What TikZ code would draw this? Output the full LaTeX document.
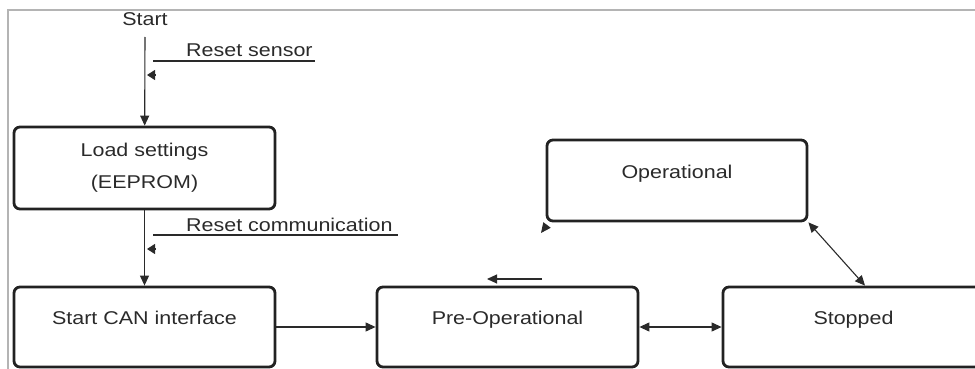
\documentclass[tikz,border=0pt]{standalone}
\usepackage{fontspec}
\setmainfont{Liberation Sans}[FakeStretch=1.16]
\usetikzlibrary{arrows.meta}
\definecolor{boxcol}{HTML}{222222}
\definecolor{txtcol}{HTML}{2A2A2A}
\definecolor{framecol}{HTML}{B4B4B4}
\begin{document}
\begin{tikzpicture}[x=1pt,y=-1pt,
	font=\fontsize{18.5pt}{32pt}\selectfont, text=txtcol,
	statebox/.style={draw=boxcol, line width=2.8pt, rounded corners=6pt,
		minimum width=261pt, minimum height=80pt, inner sep=0pt,
		text height=13pt, text depth=18pt},
	conn/.style={draw=txtcol, line width=1.1pt, -{Triangle[length=10pt,width=9pt]}},
	dconn/.style={conn, {Triangle[length=10pt,width=9pt]}-{Triangle[length=10pt,width=9pt]}},
	evtip/.style={draw=txtcol, line width=1.1pt, -{Triangle[length=8pt,width=10pt]}}]
	\clip (0,0) rectangle (975,369);
	\draw[framecol, line width=1.5pt] (8,369) -- (8,10) -- (975,10);
	\node[anchor=base] (start) at (145,26) {Start};
	\node[statebox, minimum height=82pt, text height=, text depth=, align=center]
		(load) at (144.5,168) {Load settings\\(EEPROM)};
	\foreach \N/\X/\T in {can/144.5/Start CAN interface,
		preop/507.5/Pre-Operational, stopped/853.5/Stopped}
	{\node[statebox] (\N) at (\X,327) {\T};}
	\node[statebox, minimum width=260pt, minimum height=81pt] (oper) at (677,180.5) {Operational};
	\foreach \N/\Y/\E/\T in {rsens/61/315/Reset sensor, rcomm/235/398/Reset communication}
	{
		\node[anchor=base west, inner sep=0pt] (\N) at (186,\Y-4) {\T};
		\coordinate (\N-a) at (153,\Y);
		\coordinate (\N-b) at (\E,\Y);
		\coordinate (\N-t) at (147,\Y+14);
		\draw[txtcol, line width=1.1pt] (\N-a) -- (\N-b);
		\draw[evtip] ([xshift=8pt]\N-t) -- (\N-t);
	}
	\coordinate (top) at (145,37);
	\draw[conn] (top) -- (load);
	\draw[conn] (load) -- (can);
	\draw[conn] (can) -- (preop);
	\draw[dconn] (preop) -- (stopped);
	\draw[dconn] (oper.south east) -- ([xshift=11.5pt]stopped.north);
	\coordinate (po-a) at (542,279);
	\coordinate (po-b) at (487,279);
	\draw[conn] (po-a) -- (po-b);
	\coordinate (op-t) at (541,233);
	\draw[conn] ([shift={(6,-8)}]op-t) -- (op-t);
\end{tikzpicture}
\end{document}
